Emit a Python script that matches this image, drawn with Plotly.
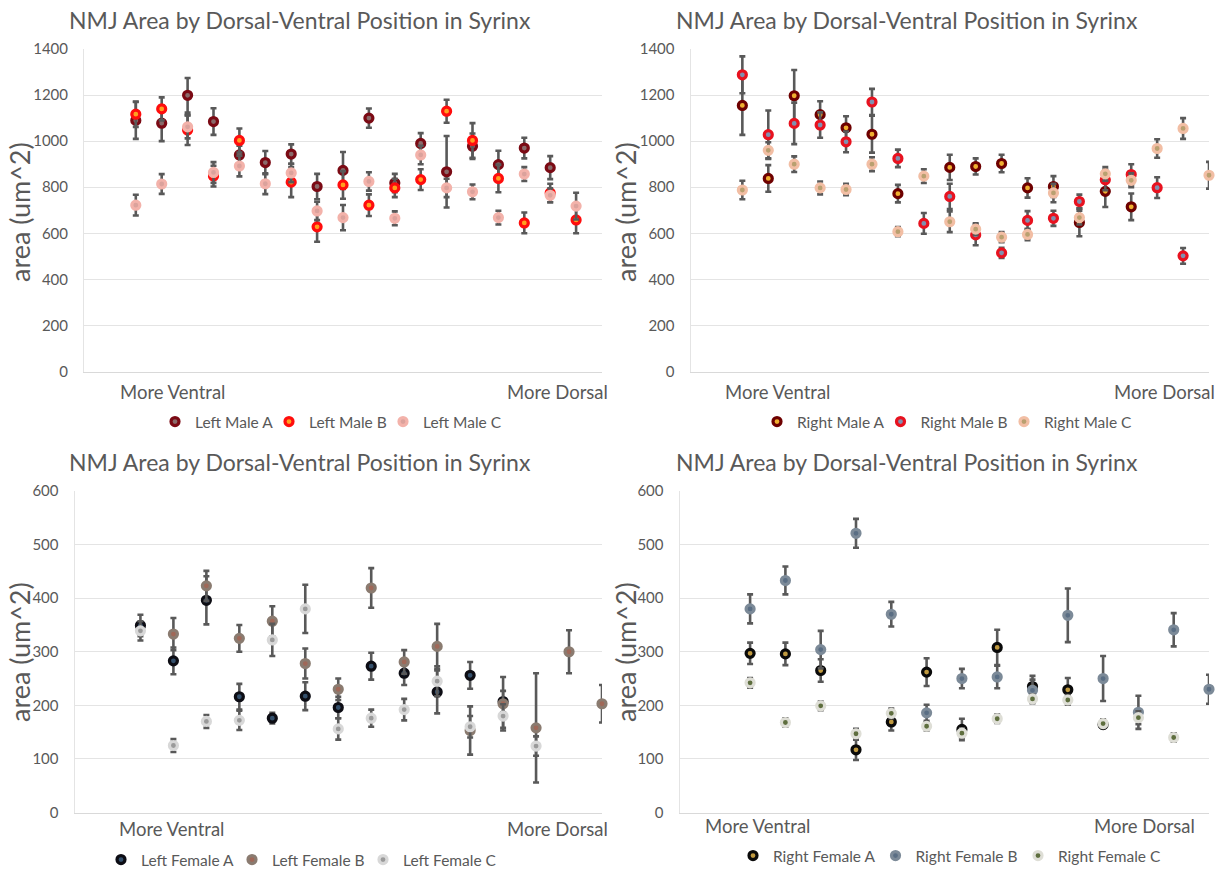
import plotly.graph_objects as go

W, H = 1215, 874
FONT = "Lato"
TXT = "#595959"

# ---------------- data ----------------
title_text = "NMJ Area by Dorsal-Ventral Position in Syrinx"
y_title = "area (um^2)"
ventral_label = "More Ventral"
dorsal_label = "More Dorsal"

# Left male (positions 2..19)
pos_lm = [2, 3, 4, 5, 6, 7, 8, 9, 10, 11, 12, 13, 14, 15, 16, 17, 18, 19]
lm_a = [1090, 1078, 1199, 1085, 940, 907, 944, 803, 873, 1100, 818, 990, 867, 978, 898, 970, 885, None]
lm_a_err = [80, 78, 75, 58, 40, 50, 42, 55, 80, 42, 40, 45, 155, 55, 60, 45, 50, None]
lm_b = [1117, 1140, 1048, 848, 1003, None, 822, 628, 810, 722, 797, 833, 1130, 1003, 838, 645, 775, 658]
lm_b_err = [55, 50, 65, 45, 52, None, 65, 65, 60, 47, 40, 45, 50, 75, 60, 45, 40, 58]
lm_c = [722, 814, 1062, 864, 892, 815, 862, 697, 668, 825, 665, 940, 797, 780, 668, 857, 765, 718]
lm_c_err = [45, 43, 50, 45, 45, 45, 40, 40, 55, 40, 30, 40, 40, 32, 30, 30, 30, 58]

# Right male (positions 2..20)
pos_rm = [2, 3, 4, 5, 6, 7, 8, 9, 10, 11, 12, 13, 14, 15, 16, 17, 18, 19, 20]
rm_a = [1155, 838, 1197, 1115, 1058, 1030, 772, None, 886, 890, 903, 797, 803, 647, 782, 715, None, None, None]
rm_a_err = [128, 58, 112, 58, 50, 80, 38, None, 55, 35, 38, 42, 45, 60, 68, 58, None, None, None]
rm_b = [1288, 1028, 1077, 1070, 997, 1170, 925, 643, 760, 593, 515, 656, 665, 738, 832, 855, 798, 502, None]
rm_b_err = [80, 105, 90, 55, 45, 57, 38, 45, 55, 45, 22, 40, 33, 30, 45, 45, 45, 34, None]
rm_c = [788, 960, 900, 797, 790, 900, 607, 848, 650, 618, 583, 595, 775, 668, 858, 830, 968, 1055, 852]
rm_c_err = [40, 35, 34, 28, 25, 30, 20, 30, 45, 25, 22, 25, 40, 30, 30, 30, 40, 45, 58]

# Left female (positions 2..16)
pos_lf = [2, 3, 4, 5, 6, 7, 8, 9, 10, 11, 12, 13, 14, 15, 16]
lf_a = [349, 283, 396, 216, 176, 217, 196, 273, 260, 225, 256, 207, None, None, None]
lf_a_err = [20, 25, 45, 24, 10, 26, 20, 25, 22, 40, 25, 20, None, None, None]
lf_b = [None, 333, 423, 325, 357, 278, 230, 419, 281, 310, 153, 203, 158, 300, 203]
lf_b_err = [None, 30, 28, 25, 28, 28, 20, 37, 22, 42, 45, 50, 102, 40, 35]
lf_c = [339, 125, 170, 172, 322, 380, 156, 176, 192, 245, 160, 180, 124, None, None]
lf_c_err = [18, 12, 12, 18, 30, 45, 20, 16, 20, 28, 20, 22, 18, None, None]

# Right female (positions 2..15)
pos_rf = [2, 3, 4, 5, 6, 7, 8, 9, 10, 11, 12, 13, 14, 15]
rf_a = [297, 296, 265, 117, 169, 262, 155, 308, 235, 229, 164, None, None, None]
rf_a_err = [20, 21, 21, 19, 16, 26, 20, 33, 20, 22, 6, None, None, None]
rf_b = [380, 433, 304, 521, 370, 186, 250, 253, 228, 368, 250, 187, 341, 230]
rf_b_err = [27, 26, 35, 27, 23, 15, 18, 21, 20, 50, 42, 31, 31, 27]
rf_c = [242, 168, 199, 147, 185, 161, 148, 175, 212, 210, 166, 177, 140, None]
rf_c_err = [9, 8, 8, 9, 9, 8, 9, 8, 8, 9, 8, 12, 8, None]

# ---------------- layout helpers ----------------
def px(x):
    return x / W

def py(y):
    return 1 - y / H

panels = [
    dict(x=(84, 602), y=(49, 371.5), xr=[0, 20], yr=[0, 1400], leg="legend",
         vent=3.41, dors=18.3, lab_y=392, title_x=300, title_y=20.5, ytl_x=19, ytl_y=212,
         leg_x=155, leg_y=422, entry=69),
    dict(x=(690.5, 1209), y=(49, 371.5), xr=[0, 20], yr=[0, 1400], leg="legend2",
         vent=3.36, dors=18.3, lab_y=392, title_x=907, title_y=20.5, ytl_x=625, ytl_y=212,
         leg_x=757, leg_y=422, entry=78.5),
    dict(x=(74.5, 602), y=(491, 812.5), xr=[0, 16], yr=[0, 600], leg="legend3",
         vent=2.95, dors=14.64, lab_y=829, title_x=300, title_y=461.5, ytl_x=19, ytl_y=652,
         leg_x=101, leg_y=860, entry=86),
    dict(x=(679.5, 1209), y=(491, 812.5), xr=[0, 15], yr=[0, 600], leg="legend4",
         vent=2.22, dors=13.17, lab_y=826, title_x=907, title_y=461.5, ytl_x=625, ytl_y=652,
         leg_x=733, leg_y=856, entry=97.5),
]

series = [
    [("Left Male A", pos_lm, lm_a, lm_a_err, "#8a6a6a", "#7b0a14"),
     ("Left Male B", pos_lm, lm_b, lm_b_err, "#ffa020", "#ff0d0d"),
     ("Left Male C", pos_lm, lm_c, lm_c_err, "#dba29c", "#f3b2aa")],
    [("Right Male A", pos_rm, rm_a, rm_a_err, "#f0b030", "#6e0000"),
     ("Right Male B", pos_rm, rm_b, rm_b_err, "#8090b0", "#e8121f"),
     ("Right Male C", pos_rm, rm_c, rm_c_err, "#b9a070", "#f2bea4")],
    [("Left Female A", pos_lf, lf_a, lf_a_err, "#34506c", "#0d0d14"),
     ("Left Female B", pos_lf, lf_b, lf_b_err, "#a06858", "#8a7b70"),
     ("Left Female C", pos_lf, lf_c, lf_c_err, "#9a9a9a", "#d8d8d8")],
    [("Right Female A", pos_rf, rf_a, rf_a_err, "#c09a40", "#0a0a0a"),
     ("Right Female B", pos_rf, rf_b, rf_b_err, "#5a6e84", "#7c8a98"),
     ("Right Female C", pos_rf, rf_c, rf_c_err, "#5e6e3e", "#deded6")],
]

fig = go.Figure()
layout = dict(width=W, height=H, margin=dict(l=0, r=0, t=0, b=0, autoexpand=False),
              template="none",
              paper_bgcolor="white", plot_bgcolor="white",
              font=dict(family=FONT, color=TXT), annotations=[])

for i, p in enumerate(panels):
    n = "" if i == 0 else str(i + 1)
    xa, ya = "xaxis" + n, "yaxis" + n
    xid, yid = "x" + n, "y" + n
    layout[xa] = dict(domain=[px(p["x"][0]), px(p["x"][1])], range=p["xr"], anchor=yid,
                      showgrid=False, zeroline=False, showticklabels=False, ticks="",
                      showline=True, linecolor="#d9d9d9", linewidth=1, fixedrange=True,
                      automargin=False)
    layout[ya] = dict(domain=[py(p["y"][1]), py(p["y"][0])], range=p["yr"], anchor=xid,
                      dtick=200 if p["yr"][1] > 1000 else 100,
                      showgrid=True, gridcolor="#e4e4e4", gridwidth=1, zeroline=False,
                      showline=True, linecolor="#e4e4e4", linewidth=1,
                      ticks="outside", ticklen=12, tickcolor="rgba(0,0,0,0)",
                      tickfont=dict(family=FONT, size=15, color=TXT), automargin=False,
                      fixedrange=True)
    layout[p["leg"]] = dict(orientation="h", x=px(p["leg_x"]), y=py(p["leg_y"]),
                            xanchor="left", yanchor="middle", entrywidth=p["entry"],
                            font=dict(family=FONT, size=15.5, color=TXT),
                            bgcolor="rgba(0,0,0,0)", itemclick=False, itemdoubleclick=False)
    ann = layout["annotations"]
    ann.append(dict(text=title_text, x=px(p["title_x"]), y=py(p["title_y"]), xref="paper", yref="paper",
                    xanchor="center", yanchor="middle", showarrow=False,
                    font=dict(family=FONT, size=23, color=TXT)))
    ann.append(dict(text=y_title, x=px(p["ytl_x"]), y=py(p["ytl_y"]), xref="paper", yref="paper",
                    xanchor="center", yanchor="middle", showarrow=False, textangle=-90,
                    font=dict(family=FONT, size=27, color=TXT)))
    for lab, xv in ((ventral_label, p["vent"]), (dorsal_label, p["dors"])):
        ann.append(dict(text=lab, x=xv, y=py(p["lab_y"]), xref=xid, yref="paper",
                        xanchor="center", yanchor="middle", showarrow=False,
                        font=dict(family=FONT, size=18.5, color=TXT)))
    for name, xs, ys, errs, fill, ring in series[i]:
        fig.add_trace(go.Scatter(
            x=xs, y=ys, mode="markers", name=name, xaxis=xid, yaxis=yid, legend=p["leg"],
            marker=dict(symbol="circle", size=8, color=fill, line=dict(color=ring, width=3.2)),
            error_y=dict(type="data", array=errs, visible=True, color="#595959",
                         thickness=2.6, width=3),
            cliponaxis=False,
        ))
    # empty spacer entry so the last legend label is not clipped by the fixed entry width
    fig.add_trace(go.Scatter(
        x=[None], y=[None], mode="markers", name=" ", xaxis=xid, yaxis=yid, legend=p["leg"],
        marker=dict(size=1, color="rgba(0,0,0,0)", line=dict(width=0, color="rgba(0,0,0,0)")),
        hoverinfo="skip", showlegend=True,
    ))

fig.update_layout(**layout)
fig.write_html("out.html",
               config={"displayModeBar": False},
               post_script="document.body.style.margin='0';document.body.style.overflow='hidden';")
